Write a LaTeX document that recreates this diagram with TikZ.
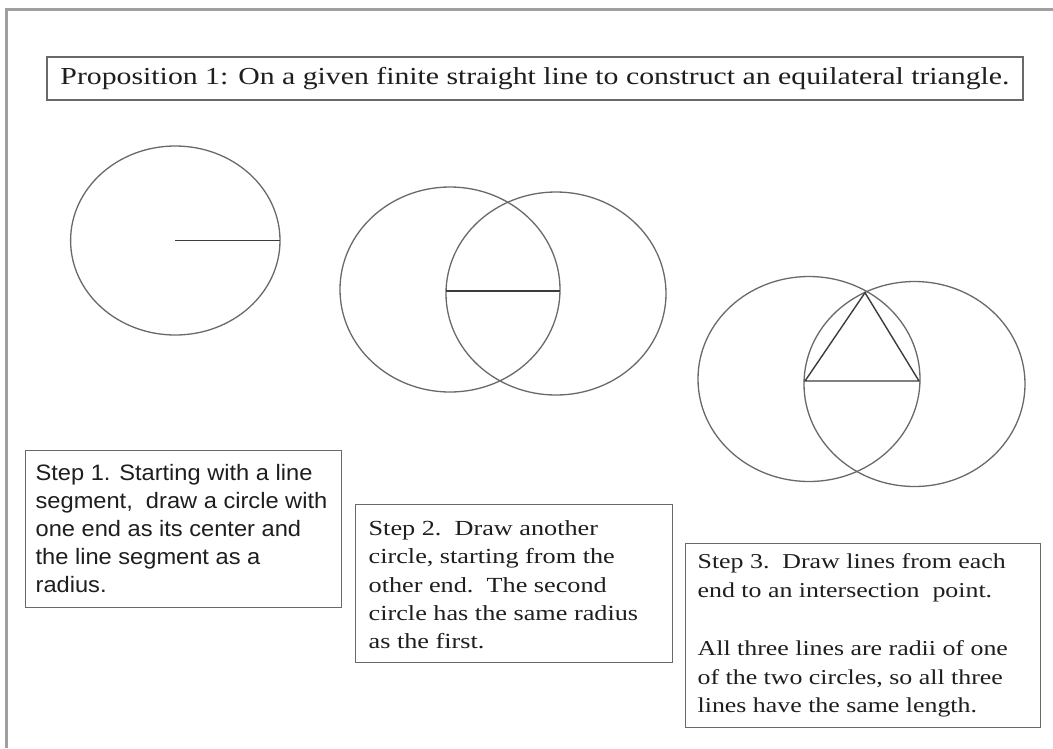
\documentclass[tikz,border=0pt]{standalone}
\usepackage{fontspec}
\newfontfamily\serifstep[FakeStretch=1.22]{Liberation Serif}
\newfontfamily\sansstep[FakeStretch=1.06]{Liberation Sans}
\definecolor{framegrey}{RGB}{160,160,160}
\definecolor{boxgrey}{RGB}{105,105,105}
\definecolor{circlegrey}{RGB}{105,105,105}
\definecolor{linegrey}{RGB}{60,60,60}
\definecolor{textgrey}{RGB}{30,30,30}

\begin{document}
\begin{tikzpicture}[x=1pt,y=-1pt,line width=1.3pt,
  stepbox/.style={draw=boxgrey,line width=1.4pt,anchor=north west,inner sep=0pt},
  steptext/.style={anchor=west,align=left,inner sep=0pt,text=textgrey},
  circ/.style={draw=circlegrey,line width=1.3pt},
  seg/.style={draw=linegrey,line width=1.4pt}]
  \useasboundingbox (0,0) rectangle (1053,748);
  \fill[white] (0,0) rectangle (1053,748);
  \draw[framegrey,line width=3pt] (6,748) -- (6,9) -- (1053,9);

  \node[stepbox,anchor=center,minimum width=976pt,minimum height=43pt,text=textgrey,
    font=\serifstep\fontsize{24.4}{29}\selectfont] (title) at (535,78.5)
    {Proposition 1: On a given finite straight line to construct an equilateral triangle.};

  % step 1
  \coordinate (A1) at (175,240.7);
  \coordinate (B1) at (280,240.7);
  \draw[circ] (175.3,240.5) ellipse [x radius=104.7, y radius=94.5];
  \draw[seg] (A1)--(B1);

  % step 2
  \coordinate (P2) at (450,289.5);
  \coordinate (Q2) at (556,293.5);
  \coordinate (A2) at (446,291);
  \coordinate (B2) at (560,291);
  \draw[circ] (P2) ellipse [x radius=110, y radius=102.5];
  \draw[circ] (Q2) ellipse [x radius=110, y radius=101.5];
  \draw[seg] (A2)--(B2);

  % step 3
  \coordinate (P3) at (809,379);
  \coordinate (Q3) at (914.5,384);
  \coordinate (A3) at (805,381);
  \coordinate (B3) at (919,381);
  \coordinate (C3) at (865,292.7);
  \draw[circ] (P3) ellipse [x radius=111, y radius=102.5];
  \draw[circ] (Q3) ellipse [x radius=110.5, y radius=102.5];
  \draw[seg] (A3)--(B3)--(C3)--cycle;

  % text boxes
  \node[stepbox,minimum width=316pt,minimum height=157pt] (box1) at (25,450) {};
  \node[steptext,font=\sansstep\fontsize{22.3}{28}\selectfont] (step1) at ([xshift=10pt,yshift=1pt]box1.west)
    {Step 1. Starting with a line\\
     segment,\ \ draw a circle with\\
     one end as its center and\\
     the line segment as a\\
     radius.};
  \node[stepbox,minimum width=317pt,minimum height=158pt] (box2) at (355,504) {};
  \node[steptext,font=\serifstep\fontsize{21.5}{28.3}\selectfont] (step2) at ([xshift=13pt,yshift=-1pt]box2.west)
    {Step 2.\ \ Draw another\\
     circle, starting from the\\
     other end.\ \ The second\\
     circle has the same radius\\
     as the first.};
  \node[stepbox,minimum width=355pt,minimum height=184pt] (box3) at (685,543) {};
  \node[steptext,font=\serifstep\fontsize{21.2}{28.8}\selectfont] (step3) at ([xshift=12pt]box3.west)
    {Step 3.\ \ Draw lines from each\\
     end to an intersection\ \ point.\\[28.8pt]
     All three lines are radii of one\\
     of the two circles, so all three\\
     lines have the same length.};
\end{tikzpicture}
\end{document}
